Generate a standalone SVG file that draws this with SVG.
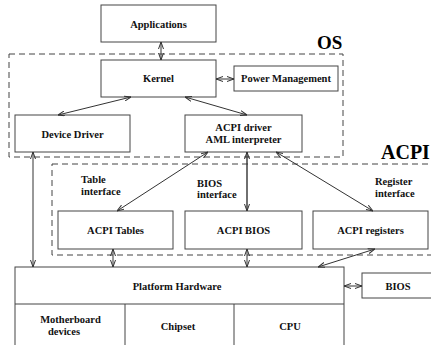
<svg xmlns="http://www.w3.org/2000/svg" width="431" height="345" viewBox="0 0 431 345">
<style>
.box{fill:#fff;stroke:#444;stroke-width:1}
.dash{fill:none;stroke:#444;stroke-width:1;stroke-dasharray:6,4}
.t{font-family:"Liberation Serif","Times New Roman",serif;font-weight:bold;font-size:10.5px;fill:#111;text-anchor:middle}
.tl{font-family:"Liberation Serif","Times New Roman",serif;font-weight:bold;font-size:10.5px;fill:#111}
.big{font-family:"Liberation Serif","Times New Roman",serif;font-weight:bold;font-size:20px;fill:#000}
.c{stroke:#333;stroke-width:1;fill:none;marker-start:url(#ah);marker-end:url(#ah)}
</style>
<defs>
<marker id="ah" viewBox="0 0 7 6" refX="7" refY="3" markerWidth="7" markerHeight="6" markerUnits="userSpaceOnUse" orient="auto-start-reverse">
<path d="M0,0.5 L7,3 L0,5.5" fill="none" stroke="#333" stroke-width="1"/>
</marker>
</defs>
<g id="os-region">
<rect class="dash" x="9" y="54" width="334" height="103"/>
<text class="big" x="317" y="49" style="font-size:19px">OS</text>
</g>
<g id="acpi-region">
<rect class="dash" x="52" y="164" width="400" height="91"/>
<text class="big" x="381" y="159">ACPI</text>
</g>
<g id="applications"><rect class="box" x="101" y="5" width="115" height="37"/><text class="t" x="158.5" y="27.5">Applications</text></g>
<g id="kernel"><rect class="box" x="101" y="60" width="115" height="37"/><text class="t" x="158.5" y="82">Kernel</text></g>
<g id="power-management"><rect class="box" x="234" y="66" width="104" height="25"/><text class="t" x="286" y="82">Power Management</text></g>
<g id="device-driver"><rect class="box" x="15" y="115" width="115" height="37"/><text class="t" x="72.5" y="137.5">Device Driver</text></g>
<g id="acpi-driver"><rect class="box" x="185" y="115" width="117" height="37"/><text class="t" x="243.5" y="130.5">ACPI driver</text><text class="t" x="243.5" y="142.5">AML interpreter</text></g>
<g id="label-table"><text class="tl" x="81" y="183">Table</text><text class="tl" x="81" y="194.5">interface</text></g>
<g id="label-bios"><text class="tl" x="197" y="186.5">BIOS</text><text class="tl" x="197" y="198">interface</text></g>
<g id="label-register"><text class="tl" x="375" y="185">Register</text><text class="tl" x="375" y="196.5">interface</text></g>
<g id="acpi-tables"><rect class="box" x="58" y="211" width="115" height="38"/><text class="t" x="115.5" y="233.5">ACPI Tables</text></g>
<g id="acpi-bios"><rect class="box" x="185" y="211" width="117" height="38"/><text class="t" x="243.5" y="233.5">ACPI BIOS</text></g>
<g id="acpi-registers"><rect class="box" x="313" y="211" width="115" height="38"/><text class="t" x="370.5" y="233.5">ACPI registers</text></g>
<g id="platform-hardware">
<rect class="box" x="15" y="267" width="329" height="90"/>
<line x1="15" y1="304" x2="344" y2="304" stroke="#444"/>
<line x1="125" y1="304" x2="125" y2="350" stroke="#444"/>
<line x1="234" y1="304" x2="234" y2="350" stroke="#444"/>
<text class="t" x="177" y="290">Platform Hardware</text>
</g>
<g id="motherboard-devices"><text class="t" x="70.5" y="322.5">Motherboard</text><text class="t" x="64" y="334.5">devices</text></g>
<g id="chipset"><text class="t" x="178" y="329.5">Chipset</text></g>
<g id="cpu"><text class="t" x="290" y="329.5">CPU</text></g>
<g id="bios"><rect class="box" x="362" y="273" width="80" height="25"/><text class="t" x="398" y="289.5">BIOS</text></g>
<g id="connectors">
<line class="c" x1="161" y1="42" x2="161" y2="60"/>
<line class="c" x1="216" y1="79" x2="234" y2="79"/>
<line class="c" x1="131" y1="97" x2="58" y2="115"/>
<line class="c" x1="185" y1="97" x2="247" y2="115"/>
<line class="c" x1="208" y1="152" x2="117" y2="211"/>
<line class="c" x1="247" y1="152" x2="247" y2="211" style="stroke-width:1.4"/>
<line class="c" x1="276" y1="152" x2="373" y2="211"/>
<line class="c" x1="33" y1="152" x2="33" y2="267"/>
<line class="c" x1="113" y1="249" x2="113" y2="267"/>
<line class="c" x1="247" y1="249" x2="247" y2="267"/>
<line class="c" x1="375" y1="249" x2="318" y2="267"/>
<line class="c" x1="344" y1="286" x2="362" y2="286"/>
</g>
</svg>
